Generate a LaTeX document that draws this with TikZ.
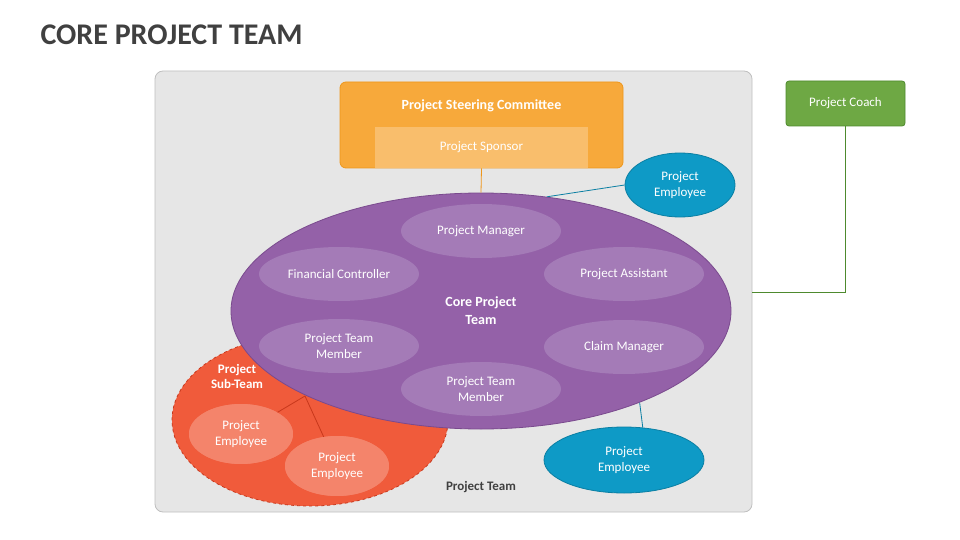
\documentclass[tikz,border=0pt]{standalone}
\usepackage{fontspec}
\setmainfont{Carlito}
\usetikzlibrary{shapes.geometric}
\definecolor{titlegray}{HTML}{404040}
\definecolor{panelfill}{HTML}{E6E6E6}
\definecolor{panelline}{HTML}{BFBFBF}
\definecolor{steerfill}{HTML}{F7A93B}
\definecolor{steerline}{HTML}{EE961A}
\definecolor{sponsfill}{HTML}{F9BE6C}
\definecolor{corefill}{HTML}{9461A8}
\definecolor{coreline}{HTML}{7A4A8E}
\definecolor{rolefill}{HTML}{A47BB7}
\definecolor{empfill}{HTML}{0E9AC6}
\definecolor{empline}{HTML}{0B7FA3}
\definecolor{subfill}{HTML}{F05B3B}
\definecolor{subline}{HTML}{C8381C}
\definecolor{subrole}{HTML}{F4846B}
\definecolor{coachfill}{HTML}{6EA844}
\definecolor{coachline}{HTML}{4E8A2E}
\tikzset{
  wtext/.style={text=white, font=\fontsize{13}{16}\selectfont, align=center},
  role/.style={wtext, ellipse, fill=rolefill, minimum width=160pt, minimum height=54pt, inner sep=0pt},
  employee/.style={wtext, ellipse, fill=empfill, draw=empline, thick, inner sep=0pt},
  subrole/.style={wtext, ellipse, fill=subrole, minimum width=104pt, minimum height=60pt, inner sep=0pt}
}
\begin{document}
\begin{tikzpicture}[x=1pt,y=-1pt]
  \useasboundingbox (0,0) rectangle (960,540);
  % title
  \node[anchor=west, text=titlegray, font=\fontsize{30}{33}\selectfont\bfseries] (title) at (37,35) {CORE PROJECT TEAM};
  % project team panel
  \draw[panelline, fill=panelfill, thick, rounded corners=8pt] (155,71) rectangle (752,512);
  \node[text=titlegray, font=\fontsize{13}{15}\selectfont\bfseries] (team) at (481,487) {Project Team};
  % sub-team
  \node[ellipse, fill=subfill, draw=subline, thick, dashed, minimum width=276pt, minimum height=172pt] (sub) at (310,420) {};
  \node[wtext, font=\fontsize{13}{15}\selectfont\bfseries] (subname) at (237,376) {Project\\Sub-Team};
  \coordinate (subhub) at (305,396);
  \node[subrole] (se1) at (241,434) {Project\\Employee};
  \node[subrole] (se2) at (337,466) {Project\\Employee};
  \draw[subline, thick] (subhub) -- (se1);
  \draw[subline, thick] (subhub) -- (se2);
  \node[subrole] at (241,434) {Project\\Employee};
  \node[subrole] at (337,466) {Project\\Employee};
  % steering committee
  \node[draw=steerline, fill=steerfill, thick, rounded corners=6pt, minimum width=283pt, minimum height=86pt] (steer) at (481.5,125) {};
  \node[wtext, font=\fontsize{14}{16}\selectfont\bfseries] (steername) at (481.5,106) {Project Steering Committee};
  \node[wtext, fill=sponsfill, minimum width=213pt, minimum height=41pt] (sponsor) at (481.5,147.5) {Project Sponsor};
  % core team
  \node[ellipse, fill=corefill, draw=coreline, thick, minimum width=500pt, minimum height=236pt] (core) at (481,311) {};
  \draw[steerline, thick] (steer.south) -- (core.north);
  \node[wtext, font=\fontsize{14}{18}\selectfont\bfseries] (corename) at (481,311) {Core Project\\Team};
  \node[role] (pm) at (481,231) {Project Manager};
  \node[role] (fc) at (339,274) {Financial Controller};
  \node[role] (pa) at (624,274) {Project Assistant};
  \node[role] (tm1) at (339,346) {Project Team\\Member};
  \node[role] (cm) at (624,347) {Claim Manager};
  \node[role] (tm2) at (481,389) {Project Team\\Member};
  % external employees
  \node[employee, minimum width=110pt, minimum height=64pt] (emp1) at (680,185) {Project\\Employee};
  \node[employee, minimum width=160pt, minimum height=66pt] (emp2) at (624,460) {Project\\Employee};
  \draw[empline, thick] (core.60) -- (emp1.west);
  \draw[empline, thick] (core.-30) -- (emp2.60);
  % coach
  \node[wtext, draw=coachline, fill=coachfill, thick, rounded corners=3pt, minimum width=119pt, minimum height=45pt] (coach) at (845.5,103.5) {Project Coach};
  \draw[coachline, thick] (coach.south) |- (752,292);
\end{tikzpicture}
\end{document}
